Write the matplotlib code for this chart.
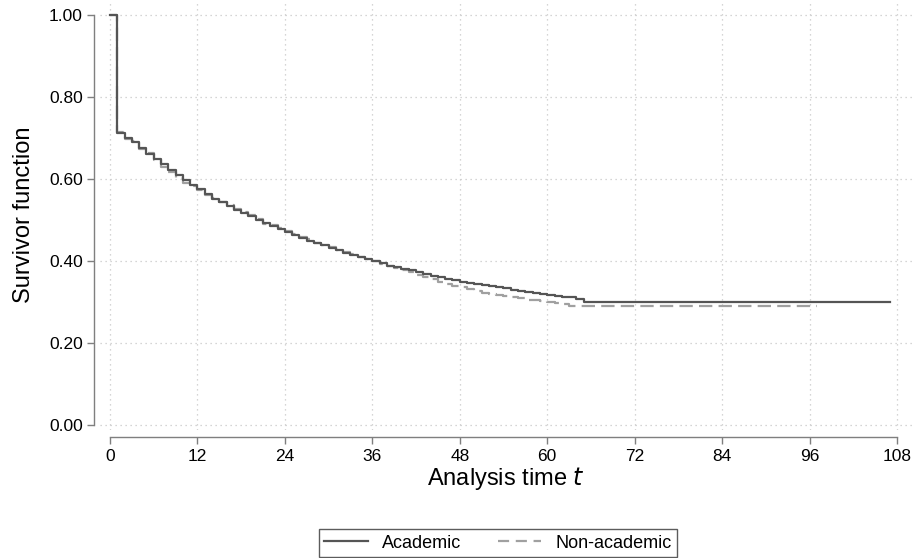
import matplotlib
matplotlib.use("Agg")
import matplotlib.pyplot as plt
from matplotlib.lines import Line2D

plt.rcParams['font.family'] = ['Liberation Sans', 'DejaVu Sans']

# Academic: step times (months) and survivor values
acad_t = [0, 1, 2, 3, 4, 5, 6, 7, 8, 9, 10, 11, 12, 13, 14, 15, 16, 17, 18, 19,
          20, 21, 22, 23, 24, 25, 26, 27, 28, 29, 30, 31, 32, 33, 34, 35, 36, 37,
          38, 39, 40, 41, 42, 43, 44, 45, 46, 47, 48, 49, 50, 51, 52, 53, 54, 55,
          56, 57, 58, 59, 60, 61, 62, 63, 64, 65, 107]
acad_s = [1.000, 0.712, 0.700, 0.690, 0.676, 0.662, 0.650, 0.636, 0.622, 0.610,
          0.598, 0.586, 0.575, 0.563, 0.552, 0.543, 0.534, 0.525, 0.517, 0.509,
          0.500, 0.492, 0.485, 0.477, 0.470, 0.463, 0.457, 0.450, 0.444, 0.438,
          0.432, 0.426, 0.420, 0.415, 0.409, 0.404, 0.399, 0.394, 0.389, 0.385,
          0.381, 0.377, 0.372, 0.368, 0.364, 0.360, 0.357, 0.353, 0.350, 0.347,
          0.344, 0.341, 0.338, 0.336, 0.333, 0.330, 0.327, 0.325, 0.322, 0.320,
          0.317, 0.315, 0.313, 0.311, 0.308, 0.300, 0.300]

# Non-academic
nona_t = [0, 1, 2, 3, 4, 5, 6, 7, 8, 9, 10, 11, 12, 13, 14, 15, 16, 17, 18, 19,
          20, 21, 22, 23, 24, 25, 26, 27, 28, 29, 30, 31, 32, 33, 34, 35, 36, 37,
          38, 39, 40, 41, 42, 43, 44, 45, 46, 47, 48, 49, 50, 51, 52, 53, 54, 55,
          56, 57, 58, 59, 60, 61, 62, 63, 97]
nona_s = [1.000, 0.715, 0.698, 0.692, 0.672, 0.664, 0.646, 0.630, 0.618, 0.603,
          0.590, 0.584, 0.572, 0.560, 0.554, 0.545, 0.536, 0.528, 0.519, 0.512,
          0.502, 0.490, 0.488, 0.481, 0.472, 0.466, 0.459, 0.453, 0.445, 0.440,
          0.433, 0.428, 0.421, 0.417, 0.410, 0.406, 0.399, 0.393, 0.387, 0.383,
          0.378, 0.372, 0.366, 0.361, 0.355, 0.349, 0.344, 0.340, 0.336, 0.331,
          0.327, 0.323, 0.320, 0.317, 0.314, 0.311, 0.309, 0.306, 0.304, 0.302,
          0.300, 0.298, 0.296, 0.290, 0.290]

x_ticks = [0, 12, 24, 36, 48, 60, 72, 84, 96, 108]
y_ticks = [0.0, 0.2, 0.4, 0.6, 0.8, 1.0]
y_ticklabels = ["0.00", "0.20", "0.40", "0.60", "0.80", "1.00"]

fig = plt.figure(figsize=(9.22, 5.58), dpi=100)
ax = fig.add_axes([100/922, 1 - 430/558, 812/922, 430/558])

ax.step(acad_t, acad_s, where='post', color='#555555', lw=1.6, label='Academic', zorder=3)
ax.step(nona_t, nona_s, where='post', color='#a0a0a0', lw=1.6, ls=(0, (6, 2.8)),
        label='Non-academic', zorder=2)

ax.set_xlim(-1.372, 110.06)
ax.set_ylim(-0.0122, 1.0366)
ax.set_xticks(x_ticks)
ax.set_yticks(y_ticks)
ax.set_yticklabels(y_ticklabels)

ax.grid(True, color='#c8c8c8', ls=(0, (1, 3)), lw=0.9)
ax.set_axisbelow(True)

for s in ['top', 'right']:
    ax.spines[s].set_visible(False)
ax.spines['left'].set_position(('outward', 4))
ax.spines['bottom'].set_position(('outward', 5))
ax.spines['left'].set_bounds(0, 1)
ax.spines['bottom'].set_bounds(0, 108)
for s in ['left', 'bottom']:
    ax.spines[s].set_color('#7f7f7f')
    ax.spines[s].set_linewidth(1.0)
ax.tick_params(axis='both', colors='#7f7f7f', labelcolor='black', length=5,
               width=1.0, labelsize=12.5)

ax.set_ylabel('Survivor function', fontsize=17, labelpad=10)
ax.set_xlabel('Analysis time $\\it{t}$', fontsize=17, labelpad=1)

handles = [Line2D([], [], color='#555555', lw=1.6),
           Line2D([], [], color='#a0a0a0', lw=1.6, ls=(0, (5, 3)))]
leg = fig.legend(handles, ['Academic', 'Non-academic'], ncol=2,
                 loc='center', bbox_to_anchor=(498/922, 1 - 543/558),
                 fontsize=13, frameon=True, fancybox=False,
                 handlelength=2.4, columnspacing=2.0, borderpad=0.3,
                 edgecolor='#333333')
leg.get_frame().set_linewidth(1.0)

fig.savefig('out.png', dpi=100)
